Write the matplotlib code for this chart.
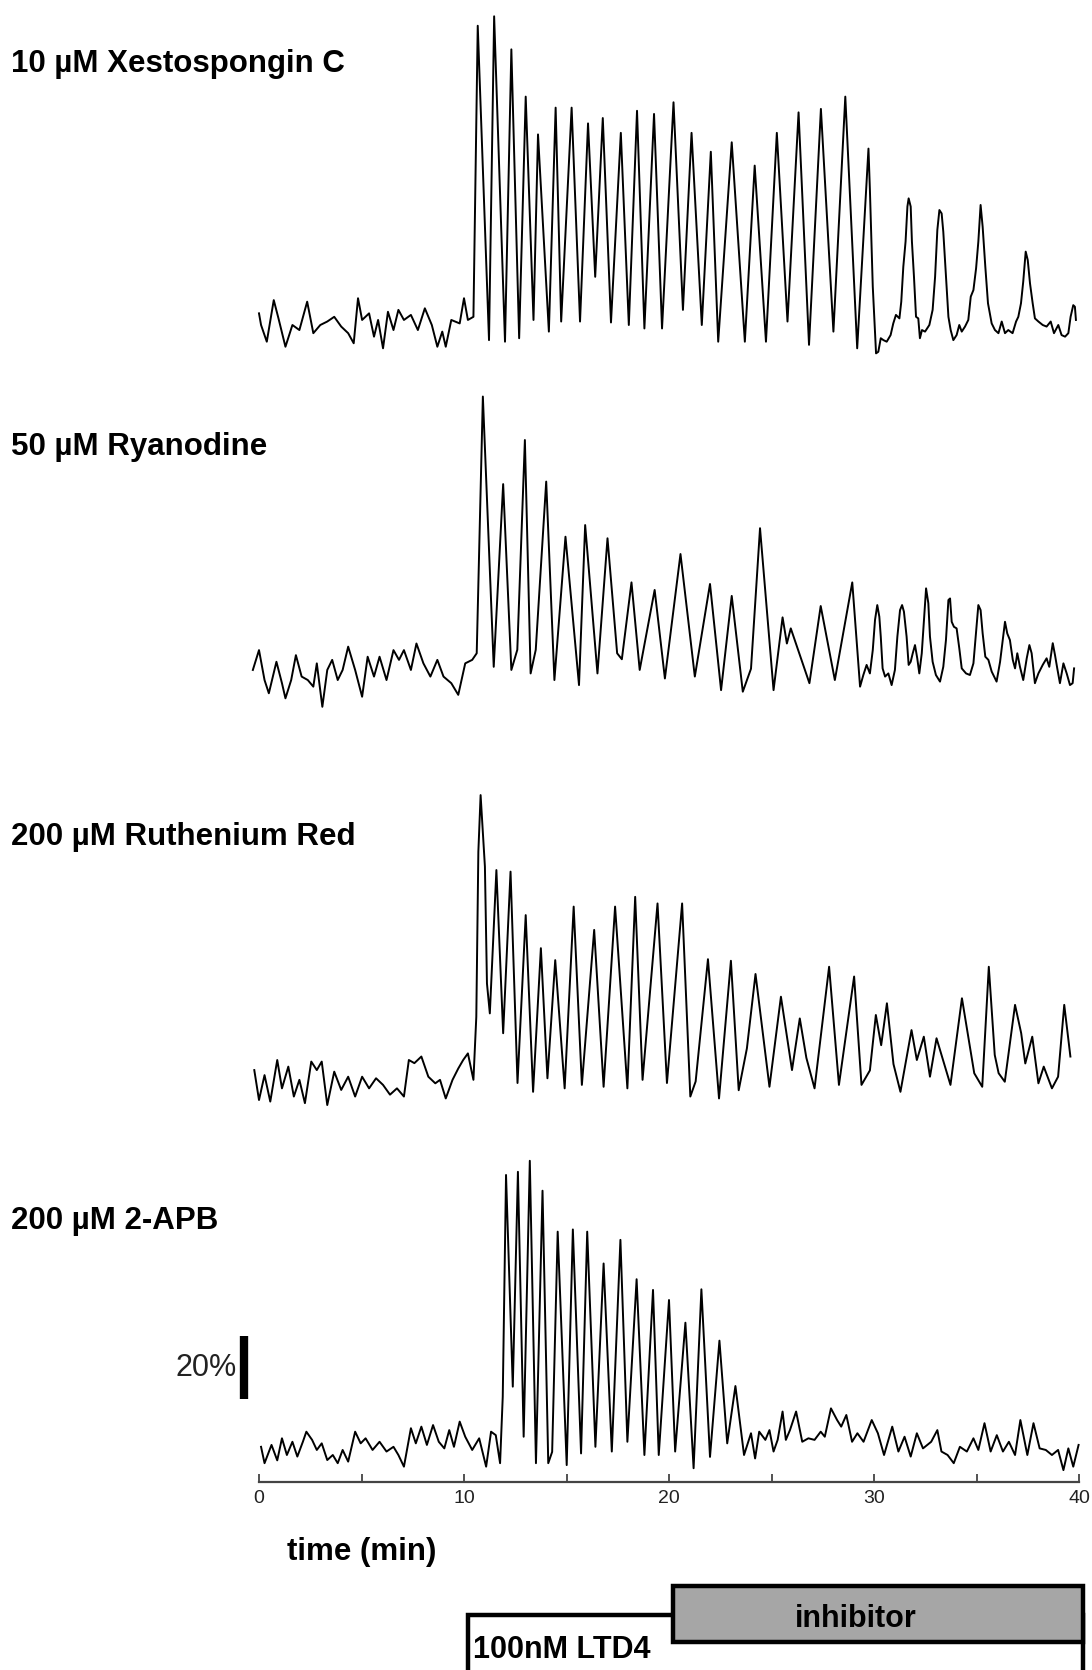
import matplotlib
matplotlib.use("Agg")
import matplotlib.pyplot as plt
from matplotlib.patches import Rectangle

plt.rcParams['font.family'] = ['Liberation Sans', 'DejaVu Sans']

# traces: time (min) and change in signal (%)
labels = ["10 \u00b5M Xestospongin C", "50 \u00b5M Ryanodine",
          "200 \u00b5M Ruthenium Red", "200 \u00b5M 2-APB"]

xesto_t = [0.0, 0.10, 0.38, 0.72, 0.95, 1.29, 1.63, 1.97, 2.35, 2.65, 2.99, 3.33, 3.67, 4.01,
           4.35, 4.62, 4.83, 5.03, 5.37, 5.61, 5.81, 6.05, 6.29, 6.56, 6.80, 7.07, 7.41, 7.75,
           8.09, 8.43, 8.70, 8.94, 9.11, 9.38, 9.79, 10.0, 10.19, 10.46,
           10.67, 11.22, 11.47, 12.0, 12.31, 12.69, 13.01, 13.39, 13.61, 14.14, 14.47, 14.74,
           15.25, 15.66, 16.05, 16.4, 16.77, 17.17, 17.65, 18.04, 18.44, 18.8, 19.27, 19.66,
           20.22, 20.68, 21.1, 21.6, 22.04, 22.4, 23.06, 23.7, 24.18, 24.73, 25.26, 25.78,
           26.32, 26.83, 27.41, 28.02, 28.6, 29.18, 29.73,
           29.80, 29.94, 30.05, 30.10, 30.21, 30.33, 30.46, 30.62, 30.81, 30.94, 31.07, 31.24,
           31.33, 31.43, 31.54, 31.63, 31.69, 31.79, 31.85, 31.95, 32.05, 32.16, 32.24, 32.34,
           32.49, 32.70, 32.86, 32.98, 33.09, 33.19, 33.30, 33.38, 33.51, 33.63, 33.74, 33.87,
           34.03, 34.16, 34.28, 34.44, 34.60, 34.72, 34.85, 34.98, 35.09, 35.20, 35.30, 35.43,
           35.56, 35.74, 35.90, 36.07, 36.23, 36.39, 36.55, 36.76, 36.93, 37.04, 37.17, 37.28,
           37.40, 37.50, 37.61, 37.74, 37.85, 38.02, 38.23, 38.42, 38.62, 38.78, 38.99, 39.15,
           39.32, 39.48, 39.59, 39.72, 39.80, 39.85]
xesto_v = [3.7, 0, -5.3, 7.9, 2.1, -6.9, 0, -1.6, 7.4, -2.6, 0, 1.1, 2.6, -0.5,
           -2.6, -5.8, 8.5, 1.6, 3.7, -3.7, 1.6, -7.4, 4.2, -1.6, 4.8, 1.6, 3.2, -1.6,
           5.3, 0, -6.9, -2.1, -6.9, 1.6, 0.5, 8.5, 1.6, 2.6,
           95, -4.8, 98, -5.3, 87.5, -4.2, 72.5, 1.6, 60.5, -2.1, 69, 1.1,
           69, 1.1, 64, 15.3, 65.7, 0.8, 61, 0, 68, -1.1, 67, -1.1,
           70.7, 4.8, 61, 0, 55, -5.3, 58, -5.3, 50.6, -5.3, 61, 1.1,
           67.5, -6.3, 68.6, -2.1, 72.5, -7.4, 56,
           42.9, 12.2, -2.6, -9.0, -8.5, -4.2, -4.8, -5.3, -3.2, 0.5, 3.2, 2.1,
           7.4, 18.5, 26.5, 37.6, 40.2, 37.6, 26.5, 15.3, 2.6, 2.1, -4.2, -1.6,
           -2.1, 0, 4.8, 15.3, 30.2, 36.5, 35.4, 29.6, 15.3, 2.6, -1.6, -4.8,
           -3.2, 0, -2.1, -0.5, 1.6, 9.0, 11.1, 18.0, 26.5, 38.1, 31.2, 18.5,
           6.9, 0.5, -1.6, -2.6, 1.1, -2.6, -1.6, -2.6, 1.1, 2.6, 6.9, 13.8,
           23.3, 20.6, 13.2, 6.9, 2.1, 1.1, 0, -0.5, 1.1, -2.6, 0, -3.2,
           -3.7, -2.6, 2.6, 6.3, 5.8, 1.6]

ryano_t = [-0.3, 0.0, 0.27, 0.48, 0.85, 1.12, 1.29, 1.57, 1.80, 2.08, 2.38, 2.65, 2.82, 3.09,
           3.33, 3.57, 3.84, 4.08, 4.35, 4.69, 5.03, 5.30, 5.61, 5.88, 6.22, 6.56, 6.83, 7.07,
           7.41, 7.68, 8.02, 8.36, 8.70, 9.0, 9.38, 9.72, 10.06, 10.40, 10.62,
           10.92, 11.45, 11.91, 12.31, 12.6, 12.97, 13.25, 13.5, 14.01, 14.41, 14.95, 15.61,
           15.91, 16.51, 17.0, 17.47, 17.7, 18.17, 18.57, 19.3, 19.8, 20.56, 21.26, 22.0,
           22.54, 23.06, 23.6, 24.0, 24.44, 25.1, 25.54, 25.75, 25.94, 26.85, 27.4, 28.09,
           28.94,
           29.32, 29.48, 29.64, 29.80, 29.94, 30.05, 30.16, 30.26, 30.33, 30.42, 30.54, 30.70,
           30.86, 31.02, 31.14, 31.27, 31.37, 31.46, 31.59, 31.69, 31.79, 31.89, 32.0, 32.11,
           32.21, 32.33, 32.44, 32.54, 32.65, 32.73, 32.86, 33.02, 33.22, 33.38, 33.51, 33.63,
           33.71, 33.79, 33.90, 34.03, 34.16, 34.28, 34.49, 34.68, 34.85, 34.98, 35.09, 35.20,
           35.30, 35.43, 35.58, 35.74, 35.98, 36.15, 36.28, 36.39, 36.50, 36.63, 36.77, 36.88,
           36.99, 37.12, 37.28, 37.45, 37.58, 37.69, 37.85, 38.02, 38.23, 38.42, 38.55, 38.72,
           38.83, 38.94, 39.07, 39.24, 39.40, 39.56, 39.69, 39.76]
ryano_v = [1.6, 7.9, -1.6, -5.8, 4.2, -2.6, -7.4, -1.6, 6.3, -0.5, -1.6, -3.7, 3.7, -10.1,
           1.6, 4.8, -1.6, 1.6, 9.0, 1.6, -6.9, 5.8, -0.5, 5.8, -1.6, 7.9, 4.8, 7.9,
           1.6, 10.0, 3.7, -0.5, 4.8, -0.5, -2.6, -6.3, 3.7, 4.8, 6.9,
           88.4, 2.6, 60.6, 1.6, 8, 74.6, 0.5, 8, 61.4, -1.6, 43.9, -3.2,
           47.6, 0.5, 43.4, 6.9, 5, 29.4, 1.6, 27, -1.1, 38.4, -0.5, 28.9,
           -4.8, 25.1, -5.3, 2, 46.6, -4.8, 18.3, 10, 14.8, -2.6, 21.9, -1.6,
           29.4,
           -3.7, 0, 3.2, 0.5, 7.9, 17.5, 22.2, 18.5, 12.2, 2.1, -0.5, 0.5,
           -3.2, 1.6, 12.2, 20.6, 22.2, 20.1, 12.2, 3.2, 4.2, 6.9, 9.5, 5.3,
           0.5, 6.9, 17.5, 27.5, 22.8, 12.2, 4.2, 0, -2.1, 2.6, 11.1, 23.8,
           24.3, 16.9, 15.3, 14.8, 8.5, 2.1, 0.5, 0, 3.7, 13.7, 22.2, 20.6,
           13.2, 5.8, 4.8, 1.1, -2.1, 4.2, 11.1, 16.9, 13.2, 11.1, 4.8, 2.1,
           6.9, 2.6, -1.6, 5.3, 9.5, 6.9, -2.6, 0.5, 3.2, 5.3, 2.6, 10.1,
           6.3, 2.1, -2.6, 3.7, 0.5, -3.2, -2.6, 2.1]

ruth_t = [-0.23, 0.0, 0.27, 0.55, 0.89, 1.12, 1.43, 1.70, 1.97, 2.24, 2.55, 2.82, 3.06, 3.33,
          3.67, 4.01, 4.35, 4.69, 5.03, 5.37, 5.71, 6.05, 6.39, 6.73, 7.07, 7.31, 7.58, 7.92,
          8.26, 8.60, 8.83, 9.11, 9.44, 9.72, 9.96, 10.19, 10.46,
          10.6, 10.7, 10.81, 11.02, 11.12, 11.26, 11.58, 11.91, 12.27, 12.61, 13.01, 13.37,
          13.75, 14.07, 14.45, 14.91, 15.35, 15.75, 16.35, 16.81, 17.37, 17.97, 18.35, 18.71,
          19.44, 19.9, 20.64, 21.04, 21.3, 21.9, 22.44, 23.02, 23.4, 23.8, 24.22, 24.9,
          25.46, 26.0, 26.38, 26.7, 27.1, 27.81, 28.29, 29.03, 29.39, 29.8, 30.09, 30.35,
          30.63, 30.95, 31.29, 31.83, 32.09, 32.43, 32.73, 33.05, 33.73, 34.29, 34.89, 35.28,
          35.6, 35.89, 36.08, 36.38, 36.88, 37.18, 37.38, 37.72, 38.02, 38.28, 38.68, 38.98,
          39.28, 39.58]
ruth_v = [4.1, -5.4, 2.5, -5.9, 7.3, -1.7, 5.2, -4.3, 1.0, -6.4, 6.8, 4.1, 6.8, -7.0,
          3.6, -2.2, 2.0, -4.3, 2.0, -1.7, 1.5, -0.6, -3.7, -1.7, -4.3, 7.3, 6.3, 8.4,
          2.0, -0.1, 1.0, -4.9, 1.0, 4.6, 7.3, 9.4, 1.0,
          21, 73.4, 91.4, 68.7, 31.6, 22.1, 67.6, 15.8, 67.1, 0, 53.3, -2.8,
          42.8, 1.5, 39, -1.7, 56, -0.6, 48.6, -1.2, 56, -1.7, 59.1, 1.0,
          57, 0, 57, -4.3, 0.5, 39.3, -4.9, 38.8, -2.3, 11, 34.6, -1.2,
          27.4, 4.1, 20.5, 8, -1.7, 36.9, -0.6, 33.8, -0.6, 4, 21.6, 12,
          25.3, 6, -2.8, 16.8, 7.3, 14.7, 2.0, 14.2, -0.6, 26.9, 3.1, -1.2,
          36.9, 8.9, 3.1, 0.4, 24.8, 15.8, 6.2, 14.7, -0.1, 5.2, -1.7, 2.0,
          24.8, 8.4]

apb_t = [0.10, 0.27, 0.61, 0.89, 1.12, 1.36, 1.63, 1.87, 2.14, 2.31, 2.59, 2.82, 3.06, 3.33,
         3.60, 3.84, 4.08, 4.35, 4.69, 4.96, 5.20, 5.54, 5.88, 6.22, 6.56, 6.80, 7.07, 7.41,
         7.65, 7.92, 8.19, 8.49, 8.77, 9.04, 9.28, 9.51, 9.79, 10.06, 10.40, 10.74, 11.08,
         11.32, 11.55, 11.76, 11.89,
         12.05, 12.38, 12.63, 12.91, 13.21, 13.51, 13.83, 14.11, 14.3, 14.57, 15.01, 15.31,
         15.71, 16.01, 16.41, 16.81, 17.21, 17.63, 17.97, 18.42, 18.8, 19.22, 19.5, 20.0,
         20.3, 20.8, 21.2, 21.58, 22.0, 22.46, 22.84, 23.24, 23.66,
         24.0, 24.2, 24.4, 24.7, 24.9, 25.1, 25.3, 25.54, 25.7, 25.9, 26.2, 26.5, 26.8, 27.1,
         27.4, 27.6, 27.9, 28.2, 28.4, 28.65, 28.93, 29.19, 29.49, 29.89, 30.19, 30.49, 30.89,
         31.19, 31.49, 31.79, 32.09, 32.39, 32.79, 33.09, 33.29, 33.59, 33.89, 34.19, 34.53,
         34.85, 35.09, 35.39, 35.69, 35.99, 36.29, 36.58, 36.88, 37.14, 37.48, 37.78, 38.08,
         38.38, 38.68, 38.98, 39.24, 39.48, 39.72, 39.98]
apb_v = [2.6, -2.6, 3.2, -1.7, 5.3, 0, 4.2, -0.5, 4.2, 7.4, 4.8, 1.6, 3.7, -1.6,
         0, -2.6, 1.6, -2.1, 7.4, 3.7, 5.3, 1.6, 4.2, 1.1, 2.6, 0, -3.7, 8.5,
         3.7, 9.0, 3.2, 9.5, 4.2, 2.1, 7.9, 2.6, 10.6, 5.8, 1.6, 5.3, -3.7,
         7.4, 6.3, -2.6, 18.5,
         88.9, 21.7, 89.9, 5.8, 93.4, -2.6, 83.9, -2.6, 1, 70.9, -3.2, 71.6,
         0.5, 70.9, 2.6, 60.8, 1.1, 68.3, 4.2, 55.8, 0, 52.4, 0, 49.2,
         1.1, 42, -4.2, 52.6, -0.6, 36.3, 3.7, 21.9, 0,
         6.9, -1.1, 7.4, 4.8, 7.9, 1.1, 4.8, 13.8, 4.8, 7.9, 13.8, 4.2, 5.3, 4.8,
         7.4, 5.8, 14.8, 11.1, 9.0, 12.7, 4.2, 6.9, 4.2, 11.1, 6.9, 0, 9.0,
         1.1, 5.8, -0.5, 6.9, 2.1, 4.2, 7.9, 1.1, 0, -2.6, 2.6, 1.1,
         5.3, 1.6, 10.1, 1.1, 6.3, 1.1, 4.2, 0, 11.1, 0, 10.1, 2.1,
         1.6, 0, 1.6, -4.8, 2.1, -3.7, 3.2]

traces = [(xesto_t, xesto_v), (ryano_t, ryano_v), (ruth_t, ruth_v), (apb_t, apb_v)]

xticks_major = [0, 10, 20, 30, 40]
xticks_minor = [5, 15, 25, 35]
scale_pct = 20
ltd4_start, inhib_start, end_time = 10.2, 20.2, 40.2

# layout (pixels of the 1092x1670 figure)
W, H = 1092, 1670
ORIGIN_PX = 259
PX_PER_MIN = 20.5
PX_PER_PCT = 3.15
BASE_PX = [325, 675, 1083, 1455]
LABEL_BASELINE_PX = [72, 455, 845, 1229]


def ypx(p):
    return (H - p) / PX_PER_PCT


def fpos(x, y):
    return x / W, 1 - y / H


fig = plt.figure(figsize=(W / 100, H / 100), dpi=100)
ax = fig.add_axes([0, 0, 1, 1])
ax.set_xlim(-ORIGIN_PX / PX_PER_MIN, (W - ORIGIN_PX) / PX_PER_MIN)
ax.set_ylim(0, H / PX_PER_PCT)
ax.patch.set_visible(False)

for (t, v), base, lab, lb in zip(traces, BASE_PX, labels, LABEL_BASELINE_PX):
    off = ypx(base)
    ax.plot(t, [off + val for val in v], color='black', lw=1.4)
    x, y = fpos(11, lb)
    fig.text(x, y, lab, fontsize=22.5, fontweight='bold', va='baseline', ha='left')

# scale bar
bar_x = (244 - ORIGIN_PX) / PX_PER_MIN
bar_y0 = ypx(1399)
ax.plot([bar_x, bar_x], [bar_y0, bar_y0 + scale_pct], color='black', lw=6,
        solid_capstyle='butt')
ax.text(bar_x - 0.35, bar_y0 + scale_pct / 2, f"{scale_pct}%", fontsize=22,
        ha='right', va='center', color='#222222')

# time axis
for s in ['top', 'left', 'right']:
    ax.spines[s].set_visible(False)
ax.spines['bottom'].set_position(('data', ypx(1482)))
ax.spines['bottom'].set_bounds(0, 40)
ax.spines['bottom'].set_linewidth(1.6)
ax.spines['bottom'].set_color('#444444')
ax.set_yticks([])
ax.set_xticks(xticks_major)
ax.set_xticks(xticks_minor, minor=True)
ax.tick_params(axis='x', which='both', direction='in', length=6, width=1.3,
               color='#444444', pad=6)
ax.set_xticklabels([str(v) for v in xticks_major], fontsize=14, color='#222222')
x, y = fpos(287, 1560)
fig.text(x, y, "time (min)", fontsize=22.5, fontweight='bold', va='baseline', ha='left')

# treatment bars
ltd4 = Rectangle((ltd4_start, ypx(1700)), end_time - ltd4_start, ypx(1615) - ypx(1700),
                 facecolor='white', edgecolor='black', lw=3.2, clip_on=False, zorder=3)
inhib = Rectangle((inhib_start, ypx(1642)), end_time - inhib_start, ypx(1586) - ypx(1642),
                  facecolor='#a6a6a6', edgecolor='black', lw=3.2, clip_on=False, zorder=4)
ax.add_patch(ltd4)
ax.add_patch(inhib)
x, y = fpos(856, 1627)
fig.text(x, y, "inhibitor", fontsize=22, fontweight='bold', va='baseline', ha='center',
         zorder=5)
x, y = fpos(473, 1658)
fig.text(x, y, "100nM LTD4", fontsize=22, fontweight='bold', va='baseline', ha='left',
         zorder=5)

fig.savefig("out.png", dpi=100, facecolor='white')
